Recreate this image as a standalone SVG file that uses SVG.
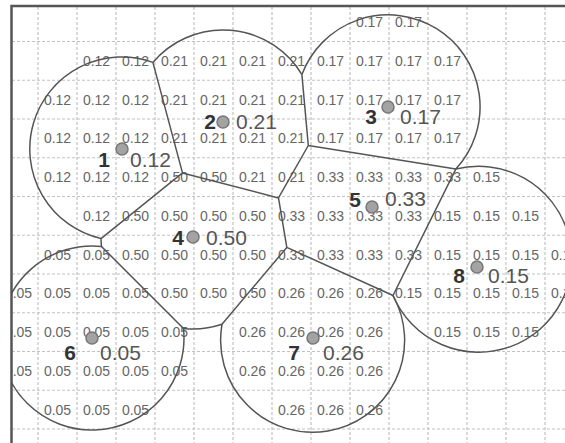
<svg xmlns="http://www.w3.org/2000/svg" width="565" height="443" viewBox="0 0 565 443">
<defs>
<clipPath id="frame"><rect x="12" y="7" width="560" height="440"/></clipPath>
<style>
.grid{stroke:#c2c2c2;stroke-width:1.2;stroke-dasharray:3 2;fill:none}
.b{stroke:#555;stroke-width:1.5;fill:none;stroke-linejoin:round}
.v{font-family:"Liberation Sans",Arial,sans-serif;font-size:14px;fill:#666;text-anchor:middle}
.n{font-family:"Liberation Sans",Arial,sans-serif;font-size:21px;font-weight:bold;fill:#333;text-anchor:middle}
.w{font-family:"Liberation Sans",Arial,sans-serif;font-size:21px;fill:#555}
.dot{fill:#a3a3a3;stroke:#777;stroke-width:1.5}
</style>
</defs>
<rect width="565" height="443" fill="#fff"/>
<g clip-path="url(#frame)">
<path class="grid" d="M38 7V443M77 7V443M116 7V443M155 7V443M194 7V443M233 7V443M272 7V443M311 7V443M350 7V443M389 7V443M428 7V443M467 7V443M506 7V443M545 7V443M12 41.5H565M12 80.25H565M12 119H565M12 157.75H565M12 196.5H565M12 235.25H565M12 274H565M12 312.75H565M12 351.5H565M12 390.25H565M12 429H565"/>
<g id="cells">
<text class="v" x="369.5" y="27.1">0.17</text><text class="v" x="408.5" y="27.1">0.17</text>
<text class="v" x="96.5" y="65.9">0.12</text><text class="v" x="135.5" y="65.9">0.12</text><text class="v" x="174.5" y="65.9">0.21</text><text class="v" x="213.5" y="65.9">0.21</text><text class="v" x="252.5" y="65.9">0.21</text><text class="v" x="291.5" y="65.9">0.21</text><text class="v" x="330.5" y="65.9">0.17</text><text class="v" x="369.5" y="65.9">0.17</text><text class="v" x="408.5" y="65.9">0.17</text><text class="v" x="447.5" y="65.9">0.17</text>
<text class="v" x="57.5" y="104.6">0.12</text><text class="v" x="96.5" y="104.6">0.12</text><text class="v" x="135.5" y="104.6">0.12</text><text class="v" x="174.5" y="104.6">0.21</text><text class="v" x="213.5" y="104.6">0.21</text><text class="v" x="252.5" y="104.6">0.21</text><text class="v" x="291.5" y="104.6">0.21</text><text class="v" x="330.5" y="104.6">0.17</text><text class="v" x="369.5" y="104.6">0.17</text><text class="v" x="408.5" y="104.6">0.17</text><text class="v" x="447.5" y="104.6">0.17</text>
<text class="v" x="57.5" y="143.4">0.12</text><text class="v" x="96.5" y="143.4">0.12</text><text class="v" x="135.5" y="143.4">0.12</text><text class="v" x="174.5" y="143.4">0.21</text><text class="v" x="213.5" y="143.4">0.21</text><text class="v" x="252.5" y="143.4">0.21</text><text class="v" x="291.5" y="143.4">0.21</text><text class="v" x="330.5" y="143.4">0.17</text><text class="v" x="369.5" y="143.4">0.17</text><text class="v" x="408.5" y="143.4">0.17</text><text class="v" x="447.5" y="143.4">0.17</text>
<text class="v" x="57.5" y="182.1">0.12</text><text class="v" x="96.5" y="182.1">0.12</text><text class="v" x="135.5" y="182.1">0.12</text><text class="v" x="174.5" y="182.1">0.50</text><text class="v" x="213.5" y="182.1">0.50</text><text class="v" x="252.5" y="182.1">0.21</text><text class="v" x="291.5" y="182.1">0.21</text><text class="v" x="330.5" y="182.1">0.33</text><text class="v" x="369.5" y="182.1">0.33</text><text class="v" x="408.5" y="182.1">0.33</text><text class="v" x="447.5" y="182.1">0.33</text><text class="v" x="486.5" y="182.1">0.15</text>
<text class="v" x="96.5" y="220.9">0.12</text><text class="v" x="135.5" y="220.9">0.50</text><text class="v" x="174.5" y="220.9">0.50</text><text class="v" x="213.5" y="220.9">0.50</text><text class="v" x="252.5" y="220.9">0.50</text><text class="v" x="291.5" y="220.9">0.33</text><text class="v" x="330.5" y="220.9">0.33</text><text class="v" x="369.5" y="220.9">0.33</text><text class="v" x="408.5" y="220.9">0.33</text><text class="v" x="447.5" y="220.9">0.15</text><text class="v" x="486.5" y="220.9">0.15</text><text class="v" x="525.5" y="220.9">0.15</text>
<text class="v" x="57.5" y="259.6">0.05</text><text class="v" x="96.5" y="259.6">0.05</text><text class="v" x="135.5" y="259.6">0.50</text><text class="v" x="174.5" y="259.6">0.50</text><text class="v" x="213.5" y="259.6">0.50</text><text class="v" x="252.5" y="259.6">0.50</text><text class="v" x="291.5" y="259.6">0.33</text><text class="v" x="330.5" y="259.6">0.33</text><text class="v" x="369.5" y="259.6">0.33</text><text class="v" x="408.5" y="259.6">0.33</text><text class="v" x="447.5" y="259.6">0.15</text><text class="v" x="486.5" y="259.6">0.15</text><text class="v" x="525.5" y="259.6">0.15</text><text class="v" x="564.5" y="259.6">0.15</text>
<text class="v" x="18.5" y="298.4">0.05</text><text class="v" x="57.5" y="298.4">0.05</text><text class="v" x="96.5" y="298.4">0.05</text><text class="v" x="135.5" y="298.4">0.05</text><text class="v" x="174.5" y="298.4">0.50</text><text class="v" x="213.5" y="298.4">0.50</text><text class="v" x="252.5" y="298.4">0.50</text><text class="v" x="291.5" y="298.4">0.26</text><text class="v" x="330.5" y="298.4">0.26</text><text class="v" x="369.5" y="298.4">0.26</text><text class="v" x="408.5" y="298.4">0.15</text><text class="v" x="447.5" y="298.4">0.15</text><text class="v" x="486.5" y="298.4">0.15</text><text class="v" x="525.5" y="298.4">0.15</text><text class="v" x="564.5" y="298.4">0.15</text>
<text class="v" x="18.5" y="337.1">0.05</text><text class="v" x="57.5" y="337.1">0.05</text><text class="v" x="96.5" y="337.1">0.05</text><text class="v" x="135.5" y="337.1">0.05</text><text class="v" x="174.5" y="337.1">0.05</text><text class="v" x="252.5" y="337.1">0.26</text><text class="v" x="291.5" y="337.1">0.26</text><text class="v" x="330.5" y="337.1">0.26</text><text class="v" x="369.5" y="337.1">0.26</text><text class="v" x="447.5" y="337.1">0.15</text><text class="v" x="486.5" y="337.1">0.15</text><text class="v" x="525.5" y="337.1">0.15</text>
<text class="v" x="18.5" y="375.9">0.05</text><text class="v" x="57.5" y="375.9">0.05</text><text class="v" x="96.5" y="375.9">0.05</text><text class="v" x="135.5" y="375.9">0.05</text><text class="v" x="174.5" y="375.9">0.05</text><text class="v" x="252.5" y="375.9">0.26</text><text class="v" x="291.5" y="375.9">0.26</text><text class="v" x="330.5" y="375.9">0.26</text><text class="v" x="369.5" y="375.9">0.26</text>
<text class="v" x="57.5" y="414.6">0.05</text><text class="v" x="96.5" y="414.6">0.05</text><text class="v" x="135.5" y="414.6">0.05</text><text class="v" x="291.5" y="414.6">0.26</text><text class="v" x="330.5" y="414.6">0.26</text><text class="v" x="369.5" y="414.6">0.26</text>
</g>
<g id="connectors">
<path class="b" d="M152.9 62.4A92 92 0 1 0 101 238.6A92 92 0 0 0 101.5 246.5A92 92 0 1 0 183.5 328.5A92 92 0 0 0 222 324.3A92 92 0 1 0 393 295.5"/>
<path class="b" d="M301.9 74.6A92 92 0 0 0 152.9 62.4"/>
<path class="b" d="M301.9 74.6A92 92 0 1 1 455.8 169.1A93 93 0 1 1 393 295.5"/>
<path class="b" d="M152.9 62.4L182.5 172.9L101 238.6M101.5 246.5L183.5 328.5M222 324.3L286.8 247.4L278.5 197.9L182.5 172.9M278.5 197.9L308.3 145.5L301.9 74.6M308.3 145.5L455.8 169.1L393 295.5L286.8 247.4"/>
</g>
<g id="node1"><circle class="dot" cx="122" cy="149" r="6"/><text class="n" x="104" y="166.5">1</text><text class="w" x="130" y="166.5">0.12</text></g>
<g id="node2"><circle class="dot" cx="223" cy="122" r="6"/><text class="n" x="210" y="129">2</text><text class="w" x="236" y="129">0.21</text></g>
<g id="node3"><circle class="dot" cx="388" cy="107" r="6"/><text class="n" x="371" y="123.5">3</text><text class="w" x="400" y="123.5">0.17</text></g>
<g id="node4"><circle class="dot" cx="193" cy="237" r="6"/><text class="n" x="178" y="244.5">4</text><text class="w" x="206" y="244.5">0.50</text></g>
<g id="node5"><circle class="dot" cx="372" cy="207" r="6"/><text class="n" x="355" y="206.5">5</text><text class="w" x="385" y="205.5">0.33</text></g>
<g id="node6"><circle class="dot" cx="92" cy="338" r="6"/><text class="n" x="70" y="359.5">6</text><text class="w" x="100" y="359.5">0.05</text></g>
<g id="node7"><circle class="dot" cx="313" cy="338" r="6"/><text class="n" x="294" y="359.5">7</text><text class="w" x="323" y="359.5">0.26</text></g>
<g id="node8"><circle class="dot" cx="477" cy="267" r="6"/><text class="n" x="459" y="282.5">8</text><text class="w" x="488" y="282.5">0.15</text></g>
</g>
<rect x="11.5" y="6" width="600" height="500" fill="none" stroke="#555" stroke-width="2.5"/>
</svg>
